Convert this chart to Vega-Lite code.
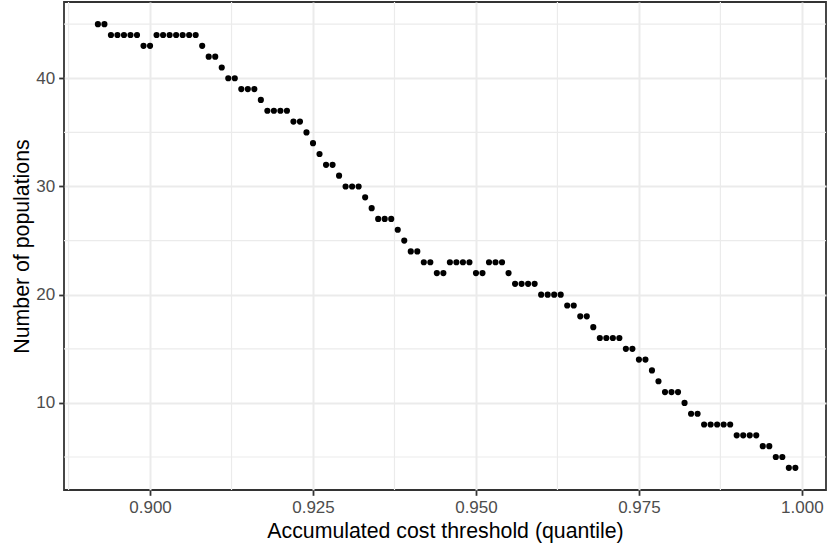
{
  "$schema": "https://vega.github.io/schema/vega-lite/v6.json",
  "width": 762,
  "height": 488,
  "autosize": {"type": "none"},
  "padding": {"left": 64, "top": 2, "right": 1, "bottom": 64},
  "background": "white",
  "config": {
    "view": {"stroke": "#333333", "strokeWidth": 1.8},
    "font": "Liberation Sans",
    "axis": {
      "grid": true,
      "gridColor": "#EBEBEB",
      "gridWidth": 2,
      "domain": false,
      "tickColor": "#333333",
      "tickWidth": 1.8,
      "tickSize": 5.3,
      "labelColor": "#4D4D4D",
      "labelFontSize": 17,
      "labelFont": "Liberation Sans",
      "titleFont": "Liberation Sans",
      "titleFontSize": 21.3,
      "titleFontWeight": "normal",
      "titleColor": "#000000"
    }
  },
  "datasets": {
    "pts": [
      {"q": 0.892, "n": 45}, {"q": 0.893, "n": 45},
      {"q": 0.894, "n": 44}, {"q": 0.895, "n": 44}, {"q": 0.896, "n": 44}, {"q": 0.897, "n": 44}, {"q": 0.898, "n": 44},
      {"q": 0.899, "n": 43}, {"q": 0.900, "n": 43},
      {"q": 0.901, "n": 44}, {"q": 0.902, "n": 44}, {"q": 0.903, "n": 44}, {"q": 0.904, "n": 44}, {"q": 0.905, "n": 44}, {"q": 0.906, "n": 44}, {"q": 0.907, "n": 44},
      {"q": 0.908, "n": 43},
      {"q": 0.909, "n": 42}, {"q": 0.910, "n": 42},
      {"q": 0.911, "n": 41},
      {"q": 0.912, "n": 40}, {"q": 0.913, "n": 40},
      {"q": 0.914, "n": 39}, {"q": 0.915, "n": 39}, {"q": 0.916, "n": 39},
      {"q": 0.917, "n": 38},
      {"q": 0.918, "n": 37}, {"q": 0.919, "n": 37}, {"q": 0.920, "n": 37}, {"q": 0.921, "n": 37},
      {"q": 0.922, "n": 36}, {"q": 0.923, "n": 36},
      {"q": 0.924, "n": 35},
      {"q": 0.925, "n": 34},
      {"q": 0.926, "n": 33},
      {"q": 0.927, "n": 32}, {"q": 0.928, "n": 32},
      {"q": 0.929, "n": 31},
      {"q": 0.930, "n": 30}, {"q": 0.931, "n": 30}, {"q": 0.932, "n": 30},
      {"q": 0.933, "n": 29},
      {"q": 0.934, "n": 28},
      {"q": 0.935, "n": 27}, {"q": 0.936, "n": 27}, {"q": 0.937, "n": 27},
      {"q": 0.938, "n": 26},
      {"q": 0.939, "n": 25},
      {"q": 0.940, "n": 24}, {"q": 0.941, "n": 24},
      {"q": 0.942, "n": 23}, {"q": 0.943, "n": 23},
      {"q": 0.944, "n": 22}, {"q": 0.945, "n": 22},
      {"q": 0.946, "n": 23}, {"q": 0.947, "n": 23}, {"q": 0.948, "n": 23}, {"q": 0.949, "n": 23},
      {"q": 0.950, "n": 22}, {"q": 0.951, "n": 22},
      {"q": 0.952, "n": 23}, {"q": 0.953, "n": 23}, {"q": 0.954, "n": 23},
      {"q": 0.955, "n": 22},
      {"q": 0.956, "n": 21}, {"q": 0.957, "n": 21}, {"q": 0.958, "n": 21}, {"q": 0.959, "n": 21},
      {"q": 0.960, "n": 20}, {"q": 0.961, "n": 20}, {"q": 0.962, "n": 20}, {"q": 0.963, "n": 20},
      {"q": 0.964, "n": 19}, {"q": 0.965, "n": 19},
      {"q": 0.966, "n": 18}, {"q": 0.967, "n": 18},
      {"q": 0.968, "n": 17},
      {"q": 0.969, "n": 16}, {"q": 0.970, "n": 16}, {"q": 0.971, "n": 16}, {"q": 0.972, "n": 16},
      {"q": 0.973, "n": 15}, {"q": 0.974, "n": 15},
      {"q": 0.975, "n": 14}, {"q": 0.976, "n": 14},
      {"q": 0.977, "n": 13},
      {"q": 0.978, "n": 12},
      {"q": 0.979, "n": 11}, {"q": 0.980, "n": 11}, {"q": 0.981, "n": 11},
      {"q": 0.982, "n": 10},
      {"q": 0.983, "n": 9}, {"q": 0.984, "n": 9},
      {"q": 0.985, "n": 8}, {"q": 0.986, "n": 8}, {"q": 0.987, "n": 8}, {"q": 0.988, "n": 8}, {"q": 0.989, "n": 8},
      {"q": 0.990, "n": 7}, {"q": 0.991, "n": 7}, {"q": 0.992, "n": 7}, {"q": 0.993, "n": 7},
      {"q": 0.994, "n": 6}, {"q": 0.995, "n": 6},
      {"q": 0.996, "n": 5}, {"q": 0.997, "n": 5},
      {"q": 0.998, "n": 4}, {"q": 0.999, "n": 4}
    ],
    "xminor": [{"q": 0.8875}, {"q": 0.9125}, {"q": 0.9375}, {"q": 0.9625}, {"q": 0.9875}],
    "yminor": [{"n": 5}, {"n": 15}, {"n": 25}, {"n": 35}, {"n": 45}]
  },
  "layer": [
    {
      "data": {"name": "xminor"},
      "mark": {"type": "rule", "color": "#EBEBEB", "strokeWidth": 1.2},
      "encoding": {
        "x": {"field": "q", "type": "quantitative", "scale": {"domain": [0.8868, 1.0037], "nice": false, "zero": false}, "title": "Accumulated cost threshold (quantile)"}
      }
    },
    {
      "data": {"name": "yminor"},
      "mark": {"type": "rule", "color": "#EBEBEB", "strokeWidth": 1.2},
      "encoding": {
        "y": {"field": "n", "type": "quantitative", "scale": {"domain": [1.95, 47.05], "nice": false, "zero": false}, "title": "Number of populations"}
      }
    },
    {
      "data": {"name": "pts"},
      "mark": {"type": "circle", "color": "#000000", "opacity": 1, "size": 38},
      "encoding": {
        "x": {
          "field": "q", "type": "quantitative",
          "scale": {"domain": [0.8868, 1.0037], "nice": false, "zero": false},
          "axis": {"values": [0.9, 0.925, 0.95, 0.975, 1.0], "format": ".3f", "labelPadding": 4, "titlePadding": 5},
          "title": "Accumulated cost threshold (quantile)"
        },
        "y": {
          "field": "n", "type": "quantitative",
          "scale": {"domain": [1.95, 47.05], "nice": false, "zero": false},
          "axis": {"values": [10, 20, 30, 40], "labelPadding": 4, "titlePadding": 3},
          "title": "Number of populations"
        }
      }
    }
  ]
}
